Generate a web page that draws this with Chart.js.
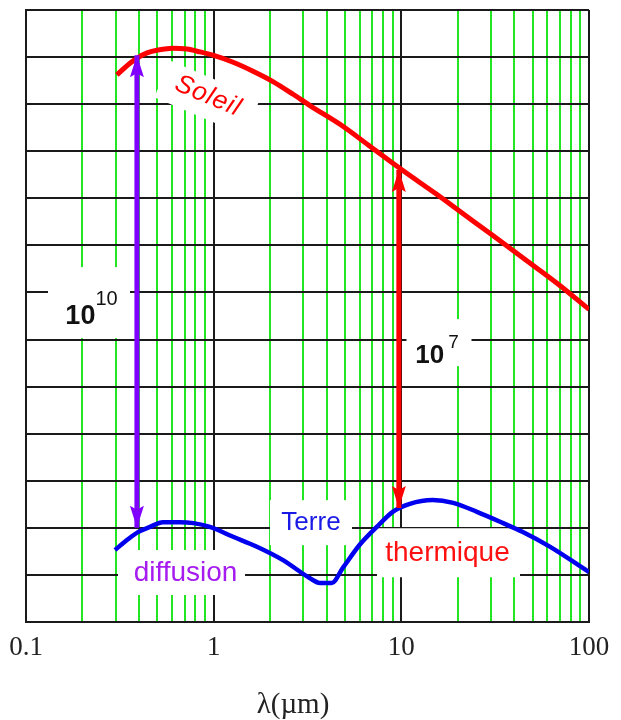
<!DOCTYPE html>
<html>
<head>
<meta charset="utf-8">
<script src="https://cdn.jsdelivr.net/npm/chart.js@4.4.1/dist/chart.umd.min.js"></script>
<style>
  html, body { margin: 0; padding: 0; background: #fff; }
  canvas { display: block; }
</style>
</head>
<body>
<canvas id="spectreChart" width="621" height="720"></canvas>
<script>
// lambda in µm, intensity as log10 (arbitrary units, one grid line = one decade)
var sunLambda = [0.305, 0.358, 0.395, 0.442, 0.506, 0.607, 0.72, 0.845, 0.99, 1.27, 1.62, 2.07, 2.65, 3.26, 4.88, 6.83, 10.1, 15.5, 20.4, 30.5, 48.6, 67.8, 100];
var sunLog = [11.62, 11.87, 11.99, 12.09, 12.15, 12.19, 12.17, 12.11, 12.04, 11.89, 11.7, 11.48, 11.21, 10.97, 10.53, 10.1, 9.6, 9.08, 8.73, 8.22, 7.62, 7.19, 6.64];

var earthLambda = [0.298, 0.345, 0.395, 0.458, 0.536, 0.66, 0.78, 0.955, 1.27, 1.7, 2.33, 3.26, 3.68, 4.26, 4.88, 6.0, 7.4, 9.0, 11.1, 14.7, 18.9, 25.3, 34.9, 44.4, 61.8, 100];
var earthLog = [1.53, 1.74, 1.91, 2.02, 2.12, 2.12, 2.1, 2.02, 1.81, 1.6, 1.32, 0.93, 0.83, 0.83, 1.15, 1.64, 2.02, 2.34, 2.51, 2.59, 2.53, 2.34, 2.1, 1.91, 1.6, 1.06];

// double arrows (10^10 and 10^7 gaps)
var diffArrowX = [0.39, 0.39];
var diffArrowY = [12.04, 2.0];
var thermArrowX = [9.7, 9.7];
var thermArrowY = [9.6, 2.42];

var xGridTicks = [0.1, 0.2, 0.3, 0.4, 0.5, 0.6, 0.7, 0.8, 0.9,
                  1, 2, 3, 4, 5, 6, 7, 8, 9,
                  10, 20, 30, 40, 50, 60, 70, 80, 90, 100];
var xTickLabels = ['0.1', '1', '10', '100'];

function pts(xs, ys) {
    return xs.map(function (x, i) { return {x: x, y: ys[i]}; });
}

// text notes, placed in data coords, box = [dx, dy, w, h] in px around the text
var notes = [
    {text: 'Soleil', at: [0.933, 11.17], color: '#ff0000', font: 'italic 26px "Liberation Sans", Arial, sans-serif', angle: 23, spacing: '1px', box: [0, 2, 98, 40]},
    {text: 'Terre', at: [3.30, 2.11], color: '#1a1ae6', font: '26px "Liberation Sans", Arial, sans-serif', box: [0, 0, 82, 45]},
    {text: 'diffusion', at: [0.708, 1.03], color: '#a61cf0', font: '28px "Liberation Sans", Arial, sans-serif', box: [-4, -1, 127, 45]},
    {text: 'thermique', at: [17.62, 1.45], color: '#ff1010', font: '28px "Liberation Sans", Arial, sans-serif', box: [1, -1, 143, 49]},
    {base: '10', sup: '10', at: [0.2234, 6.54], baseSize: 27, supSize: 20, raise: 19, gap: 0, box: [-2.5, -11.5, 82, 71]},
    {base: '10', sup: '7', at: [15.49, 5.69], baseSize: 26, supSize: 19, raise: 15, gap: 4, box: [2, -11.5, 65, 47]}
];

function isDecade(v) {
    var l = Math.log10(v);
    return Math.abs(l - Math.round(l)) < 1e-9;
}

function drawHead(ctx, tip, from, color) {
    var a = Math.atan2(tip.y - from.y, tip.x - from.x);
    ctx.save();
    ctx.translate(tip.x, tip.y);
    ctx.rotate(a - Math.PI / 2);
    ctx.fillStyle = color;
    ctx.beginPath();
    ctx.moveTo(0, 0);
    ctx.lineTo(-7, -22);
    ctx.lineTo(0, -18);
    ctx.lineTo(7, -22);
    ctx.closePath();
    ctx.fill();
    ctx.restore();
}

var notesPlugin = {
    id: 'notes',
    beforeDatasetsDraw: function (chart) {
        var ctx = chart.ctx, sx = chart.scales.x, sy = chart.scales.y;
        ctx.save();
        ctx.fillStyle = '#ffffff';
        notes.forEach(function (n) {
            var px = sx.getPixelForValue(n.at[0]), py = sy.getPixelForValue(n.at[1]);
            ctx.save();
            ctx.translate(px, py);
            ctx.rotate((n.angle || 0) * Math.PI / 180);
            ctx.fillRect(n.box[0] - n.box[2] / 2, n.box[1] - n.box[3] / 2, n.box[2], n.box[3]);
            ctx.restore();
        });
        ctx.restore();
    },
    afterDatasetsDraw: function (chart) {
        var ctx = chart.ctx, sx = chart.scales.x, sy = chart.scales.y;
        chart.data.datasets.forEach(function (ds, i) {
            if (!ds.arrow) return;
            var p = chart.getDatasetMeta(i).data;
            drawHead(ctx, p[0], p[1], ds.borderColor);
            drawHead(ctx, p[1], p[0], ds.borderColor);
        });
        notes.forEach(function (n) {
            var px = sx.getPixelForValue(n.at[0]), py = sy.getPixelForValue(n.at[1]);
            ctx.save();
            if (n.text) {
                ctx.translate(px, py);
                ctx.rotate((n.angle || 0) * Math.PI / 180);
                ctx.font = n.font;
                if (n.spacing) ctx.letterSpacing = n.spacing;
                ctx.fillStyle = n.color;
                ctx.textAlign = 'center';
                ctx.textBaseline = 'middle';
                ctx.fillText(n.text, 0, 0);
            } else {
                var baseFont = 'bold ' + n.baseSize + 'px "Liberation Sans", Arial, sans-serif';
                var supFont = n.supSize + 'px "Liberation Sans", Arial, sans-serif';
                ctx.font = baseFont;
                var wb = ctx.measureText(n.base).width;
                ctx.font = supFont;
                var ws = ctx.measureText(n.sup).width;
                var left = px - (wb + n.gap + ws) / 2;
                var baseline = py + 0.358 * n.baseSize;
                ctx.fillStyle = '#111';
                ctx.textBaseline = 'alphabetic';
                ctx.textAlign = 'left';
                ctx.font = baseFont;
                ctx.fillText(n.base, left, baseline);
                ctx.font = supFont;
                ctx.fillText(n.sup, left + wb + n.gap, baseline - n.raise);
            }
            ctx.restore();
        });
    }
};

var ctx = document.getElementById('spectreChart').getContext('2d');
var chart = new Chart(ctx, {
    type: 'line',
    data: {
        datasets: [{
            label: 'Soleil',
            data: pts(sunLambda, sunLog),
            borderColor: '#ff0000',
            borderWidth: 5,
            pointRadius: 0,
            cubicInterpolationMode: 'monotone',
            order: 2
        }, {
            label: 'Terre',
            data: pts(earthLambda, earthLog),
            borderColor: '#0000ee',
            borderWidth: 4.5,
            pointRadius: 0,
            cubicInterpolationMode: 'monotone',
            order: 2
        }, {
            label: '10^10',
            data: pts(diffArrowX, diffArrowY),
            borderColor: '#8000ff',
            borderWidth: 5,
            pointRadius: 0,
            arrow: true,
            order: 1
        }, {
            label: '10^7',
            data: pts(thermArrowX, thermArrowY),
            borderColor: '#ff0000',
            borderWidth: 5,
            pointRadius: 0,
            arrow: true,
            order: 1
        }]
    },
    options: {
        responsive: false,
        animation: false,
        layout: { padding: { top: 10, right: 32, bottom: 0, left: 0 } },
        plugins: {
            legend: { display: false },
            tooltip: { enabled: false }
        },
        scales: {
            x: {
                type: 'logarithmic',
                min: 0.1,
                max: 100,
                afterBuildTicks: function (s) {
                    s.ticks = xGridTicks.map(function (v) { return {value: v}; });
                },
                afterFit: function (s) { s.height = 98; },
                grid: {
                    color: function (c) { return isDecade(c.tick.value) ? '#1a1a1a' : '#22e622'; },
                    lineWidth: 2,
                    drawTicks: false
                },
                border: { color: '#1a1a1a', width: 2 },
                ticks: {
                    autoSkip: false,
                    maxRotation: 0,
                    padding: 2,
                    color: '#222',
                    font: { family: '"Liberation Serif", "Times New Roman", serif', size: 27, lineHeight: 1.78 },
                    callback: function (v) {
                        var s = String(v);
                        return xTickLabels.indexOf(s) >= 0 ? s : '';
                    }
                },
                title: {
                    display: true,
                    text: 'λ(µm)\u2003',
                    color: '#222',
                    padding: 0,
                    font: { family: '"Liberation Serif", "Times New Roman", serif', size: 29, lineHeight: 1 }
                }
            },
            y: {
                type: 'linear',
                min: 0,
                max: 13,
                afterFit: function (s) { s.width = 26; },
                grid: { color: '#1a1a1a', lineWidth: 2, drawTicks: false },
                border: { color: '#1a1a1a', width: 2 },
                ticks: { display: false, stepSize: 1 }
            }
        }
    },
    plugins: [notesPlugin]
});
</script>
</body>
</html>
